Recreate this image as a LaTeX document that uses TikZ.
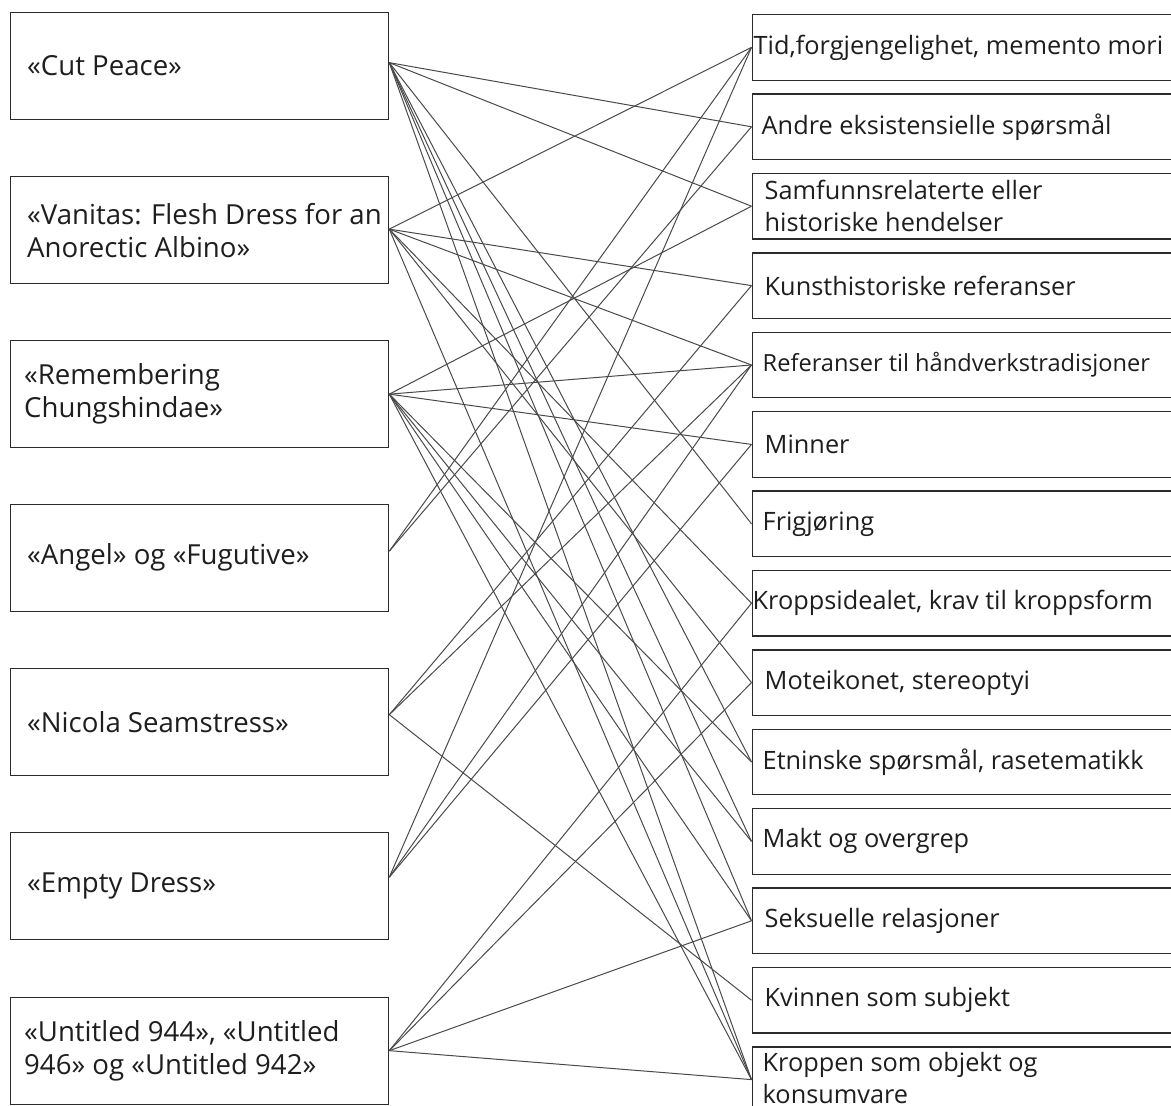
\documentclass[tikz,border=0pt]{standalone}
\usepackage{fontspec}
\setmainfont{Open Sans}
\begin{document}
\definecolor{boxc}{HTML}{2B2B2B}
\definecolor{linec}{HTML}{4A4A4A}
\definecolor{txtc}{HTML}{1E1E1E}
\begin{tikzpicture}[x=1pt,y=-1pt]
\tikzset{
  box/.style={draw=boxc, line width=1.3pt, anchor=north west, inner sep=0pt},
  lbox/.style={box, minimum width=378pt, minimum height=107pt},
  rbox/.style={box, minimum width=470pt, minimum height=65.5pt},
  ltxt/.style={anchor=west, align=left, inner sep=0pt, text=txtc,
               font=\fontsize{27.6}{33}\selectfont},
  rtxt/.style={anchor=west, align=left, inner sep=0pt, text=txtc,
               font=\fontsize{25.3}{32}\selectfont},
  link/.style={draw=linec, line width=1pt}
}
\useasboundingbox (0,0) rectangle (1171,1106);
\clip (0,0) rectangle (1171,1106);
\fill[white] (0,0) rectangle (1171,1106);

% works (left column)
\node[lbox] (cp) at (10,12)    {};
\node[lbox] (va) at (10,176)   {};
\node[lbox] (re) at (10,340)   {};
\node[lbox] (an) at (10,503.5) {};
\node[lbox] (ni) at (10,667.5) {};
\node[lbox] (em) at (10,832)   {};
\node[lbox] (un) at (10,996.5) {};

\node[ltxt] (cpt) at ([xshift=17pt,yshift=1pt]cp.west) {«Cut Peace»};
\node[ltxt] (vat) at ([xshift=17pt]va.west) {«Vanitas: Flesh Dress for an\\Anorectic Albino»};
\node[ltxt] (ret) at ([xshift=14pt]re.west) {«Remembering\\Chungshindae»};
\node[ltxt] (ant) at ([xshift=17pt]an.west) {«Angel» og «Fugutive»};
\node[ltxt] (nit) at ([xshift=17pt]ni.west) {«Nicola Seamstress»};
\node[ltxt] (emt) at ([xshift=17pt]em.west) {«Empty Dress»};
\node[ltxt] (unt) at ([xshift=14pt]un.west) {«Untitled 944», «Untitled\\946» og «Untitled 942»};

% points on the right edge of each work where its links leave
\coordinate (cpo) at ([yshift=3.5pt]cp.east);
\coordinate (vao) at ([yshift=1pt]va.east);
\coordinate (reo) at (re.east);
\coordinate (ano) at ([yshift=6.5pt]an.east);
\coordinate (nio) at ([yshift=7pt]ni.east);
\coordinate (emo) at ([yshift=9pt]em.east);
\coordinate (uno) at (un.east);

% themes (right column)
\node[rbox] (tid)   at (751.5,14)     {};
\node[rbox] (andre) at (751.5,93.4)   {};
\node[rbox] (samf)  at (751.5,172.8)  {};
\node[rbox] (kunst) at (751.5,252.2)  {};
\node[rbox] (ref)   at (751.5,331.6)  {};
\node[rbox] (minn)  at (751.5,411)    {};
\node[rbox] (frig)  at (751.5,490.4)  {};
\node[rbox] (kid)   at (751.5,569.8)  {};
\node[rbox] (mote)  at (751.5,649.2)  {};
\node[rbox] (etn)   at (751.5,728.6)  {};
\node[rbox] (makt)  at (751.5,808)    {};
\node[rbox] (seks)  at (751.5,887.4)  {};
\node[rbox] (kvinn) at (751.5,966.8)  {};
\node[rbox] (kropp) at (751.5,1046.2) {};

\node[rtxt] (tidt)   at ([xshift=2pt]tid.west)    {Tid,forgjengelighet, memento mori};
\node[rtxt] (andret) at ([xshift=10pt]andre.west) {Andre eksistensielle spørsmål};
\node[rtxt] (samft)  at ([xshift=13pt]samf.west)  {Samfunnsrelaterte eller\\historiske hendelser};
\node[rtxt] (kunstt) at ([xshift=13pt]kunst.west) {Kunsthistoriske referanser};
\node[rtxt, font=\fontsize{23.6}{30}\selectfont] (reft) at ([xshift=11pt]ref.west) {Referanser til håndverkstradisjoner};
\node[rtxt] (minnt)  at ([xshift=13pt]minn.west)  {Minner};
\node[rtxt] (frigt)  at ([xshift=11pt]frig.west)  {Frigjøring};
\node[rtxt] (kidt)   at ([xshift=1pt]kid.west)    {Kroppsidealet, krav til kroppsform};
\node[rtxt] (motet)  at ([xshift=13pt]mote.west)  {Moteikonet, stereoptyi};
\node[rtxt] (etnt)   at ([xshift=11pt]etn.west)   {Etninske spørsmål, rasetematikk};
\node[rtxt] (maktt)  at ([xshift=11pt]makt.west)  {Makt og overgrep};
\node[rtxt] (sekst)  at ([xshift=13pt]seks.west)  {Seksuelle relasjoner};
\node[rtxt] (kvinnt) at ([xshift=13pt]kvinn.west) {Kvinnen som subjekt};
\node[rtxt] (kroppt) at ([xshift=11pt,yshift=2pt]kropp.west) {Kroppen som objekt og\\konsumvare};

% links between works and themes
\foreach \a/\b in {cp/andre, cp/samf, cp/frig, cp/etn, cp/makt, cp/seks, cp/kropp,
                   va/tid, va/kunst, va/ref, va/kid, va/mote, va/kropp,
                   re/samf, re/ref, re/minn, re/etn, re/makt, re/seks, re/kropp,
                   an/tid, an/andre,
                   ni/kunst, ni/ref, ni/kvinn,
                   em/tid, em/ref, em/minn,
                   un/kid, un/mote, un/seks, un/kropp}
  \draw[link] (\a o) -- (\b.west);
\end{tikzpicture}
\end{document}
